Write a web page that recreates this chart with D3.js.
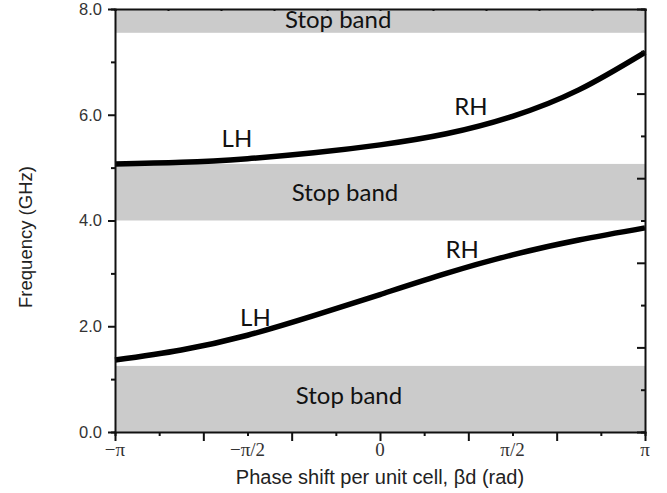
<!DOCTYPE html>
<html>
<head>
<meta charset="utf-8">
<script src="https://cdn.jsdelivr.net/npm/d3@7"></script>
<style>
  html, body { margin: 0; padding: 0; background: #fff; }
  svg { display: block; }
</style>
</head>
<body>
<div id="chart"></div>
<script>
// ---- Data (phase in units of π, frequency in GHz) ----
const phase = [-1, -0.75, -0.5, -0.25, 0, 0.25, 0.5, 0.75, 1];
const upperBand = [5.07, 5.10, 5.17, 5.28, 5.43, 5.64, 5.97, 6.47, 7.18];
const lowerBand = [1.36, 1.55, 1.83, 2.20, 2.60, 3.00, 3.35, 3.63, 3.86];

const stopLow = [0, 4.0, 7.55];
const stopHigh = [1.25, 5.07, 8.0];

const yTicks = [0, 2, 4, 6, 8];
const xTickValues = [-1, -0.5, 0, 0.5, 1];
const xTickLabels = ["\u2212\u03c0", "\u2212\u03c0/2", "0", "\u03c0/2", "\u03c0"];

const W = 667, H = 493;
const m = { left: 115, right: 22, top: 9, bottom: 61 };

const svg = d3.select("#chart").append("svg").attr("width", W).attr("height", H);

const x = d3.scaleLinear().domain([-1, 1]).range([m.left, W - m.right]);
const y = d3.scaleLinear().domain([0, 8]).range([H - m.bottom, m.top]);

// Stop bands
svg.append("g").selectAll("rect").data(stopLow).join("rect")
  .attr("x", x(-1))
  .attr("width", x(1) - x(-1))
  .attr("y", (d, i) => y(stopHigh[i]))
  .attr("height", (d, i) => y(d) - y(stopHigh[i]))
  .attr("fill", "#cbcbcb");

// Curves
const line = d3.line().x(d => x(d[0])).y(d => y(d[1])).curve(d3.curveNatural);
[upperBand, lowerBand].forEach(series => {
  svg.append("path")
    .datum(phase.map((p, i) => [p, series[i]]))
    .attr("fill", "none").attr("stroke", "#000").attr("stroke-width", 5.5)
    .attr("stroke-linecap", "butt")
    .attr("d", line);
});

// Axes
const axisColor = "#111";
// bottom
const xMinor = d3.range(-6, 7).map(k => k / 6);
const gB = svg.append("g").attr("transform", `translate(0,${y(0)})`)
  .call(d3.axisBottom(x).tickValues(xMinor).tickFormat("").tickSizeOuter(0).tickSize(4));
gB.selectAll(".tick line").attr("y2", d => (Math.abs(Math.round(d * 6)) % 2 === 0 ? 9 : 4));
// top
const gT = svg.append("g").attr("transform", `translate(0,${y(8)})`)
  .call(d3.axisBottom(x).tickValues(d3.range(-5, 6).map(k => k / 5)).tickFormat("").tickSizeOuter(0).tickSize(2));
// left
const yMinor = d3.range(0, 9);
const gL = svg.append("g").attr("transform", `translate(${x(-1)},0)`)
  .call(d3.axisLeft(y).tickValues(yMinor).tickFormat("").tickSizeOuter(0).tickSize(4));
gL.selectAll(".tick line").attr("x2", d => (d % 2 === 0 ? -7 : -4));
// right
const rTicks = d3.range(0, 11).map(k => k * 0.8);
const gR = svg.append("g").attr("transform", `translate(${x(1)},0)`)
  .call(d3.axisLeft(y).tickValues(rTicks).tickFormat("").tickSizeOuter(0).tickSize(4));
gR.selectAll(".tick line").attr("x2", (d, i) => (i % 2 === 0 ? -8 : -4));

[gB, gT, gL, gR].forEach(g => {
  g.select(".domain").attr("stroke", axisColor).attr("stroke-width", 2);
  g.selectAll(".tick line").attr("stroke", axisColor).attr("stroke-width", 2);
});

// Y tick labels
svg.append("g").selectAll("text").data(yTicks).join("text")
  .attr("x", x(-1) - 13).attr("y", d => y(d))
  .attr("dy", "0.36em").attr("text-anchor", "end")
  .attr("font-family", "Liberation Sans, Arial, sans-serif").attr("font-size", 16.5)
  .attr("fill", "#333")
  .text(d => d.toFixed(1));

// X tick labels
svg.append("g").selectAll("text").data(xTickValues).join("text")
  .attr("x", d => x(d)).attr("y", y(0) + 24)
  .attr("text-anchor", "middle")
  .attr("font-family", "Liberation Serif, Times New Roman, serif").attr("font-size", 19)
  .attr("fill", "#333")
  .text((d, i) => xTickLabels[i]);

// Axis titles
svg.append("text")
  .attr("x", 380).attr("y", 484)
  .attr("text-anchor", "middle")
  .attr("font-family", "Liberation Sans, Arial, sans-serif").attr("font-size", 20)
  .attr("fill", "#222")
  .text("Phase shift per unit cell, \u03b2d (rad)");
svg.append("text")
  .attr("transform", "translate(32,237) rotate(-90)")
  .attr("text-anchor", "middle")
  .attr("font-family", "Liberation Sans, Arial, sans-serif").attr("font-size", 18.5)
  .attr("fill", "#222")
  .text("Frequency (GHz)");

// Annotations
const annFont = "Lato, Carlito, Calibri, sans-serif";
const notes = [
  { t: "Stop band", p: -0.158, f: 7.64 },
  { t: "Stop band", p: -0.132, f: 4.37 },
  { t: "Stop band", p: -0.117, f: 0.53 },
  { t: "LH", p: -0.54, f: 5.39 },
  { t: "RH", p: 0.343, f: 5.99 },
  { t: "LH", p: -0.47, f: 2.0 },
  { t: "RH", p: 0.31, f: 3.29 }
];
svg.append("g").selectAll("text").data(notes).join("text")
  .attr("x", d => x(d.p)).attr("y", d => y(d.f))
  .attr("text-anchor", "middle")
  .attr("font-family", annFont).attr("font-size", 24)
  .attr("fill", "#111")
  .text(d => d.t);
</script>
</body>
</html>
